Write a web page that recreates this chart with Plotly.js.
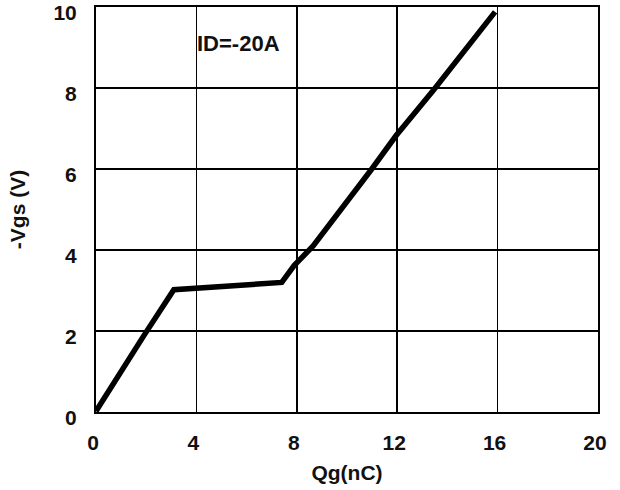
<!DOCTYPE html>
<html>
<head>
<meta charset="utf-8">
<script src="https://cdn.plot.ly/plotly-3.0.1.min.js"></script>
<style>html,body{margin:0;padding:0;background:#fff;}#chart{width:620px;height:490px;}</style>
</head>
<body>
<div id="chart"></div>
<script>
const qg = [0, 0.78, 1.9, 3.1, 7.4, 7.9, 8.65, 10.95, 11.95, 13.45, 15.9];
const vgs = [0.02, 0.8, 1.88, 3.02, 3.2, 3.62, 4.1, 5.97, 6.82, 7.95, 9.88];
const xTicks = [0, 4, 8, 12, 16, 20];
const yTicks = [0, 2, 4, 6, 8, 10];
const noteText = "ID=-20A";

const font = "Liberation Sans, Arial, sans-serif";
const trace = {
  x: qg, y: vgs, type: "scatter", mode: "lines",
  line: {color: "#000", width: 5.5},
  hoverinfo: "skip"
};
const axisCommon = {
  showgrid: true, gridcolor: "#000", gridwidth: 1.7,
  showline: true, linecolor: "#000", linewidth: 2, mirror: true,
  zeroline: false, ticks: "", fixedrange: true, ticklabeloverflow: "allow"
};
const layout = {
  width: 620, height: 490,
  margin: {l: 96, r: 22, t: 7, b: 78},
  paper_bgcolor: "#fff", plot_bgcolor: "#fff",
  showlegend: false,
  font: {family: font, color: "#111"},
  xaxis: Object.assign({}, axisCommon, {
    range: [0, 20], tickvals: xTicks, ticktext: xTicks.map(v => "<b>" + v + "</b>"),
    tickfont: {family: font, size: 21, color: "#111"},
    ticklabelstandoff: 11, ticklabelshift: -3,
    title: {text: "<b>Qg(nC)</b>", font: {family: font, size: 21, color: "#111"}, standoff: 12}
  }),
  yaxis: Object.assign({}, axisCommon, {
    range: [0, 10], tickvals: yTicks, ticktext: yTicks.map(v => "<b>" + v + "</b>"),
    tickfont: {family: font, size: 21, color: "#111"},
    ticklabelstandoff: 13, ticklabelshift: 6,
    title: {text: "<b>-Vgs (V)</b>", font: {family: font, size: 21, color: "#111"}, standoff: 22}
  }),
  annotations: [{
    x: 5.66, y: 9.1, xref: "x", yref: "y", text: "<b>" + noteText + "</b>",
    showarrow: false, font: {family: font, size: 22, color: "#111"}
  }]
};
Plotly.newPlot("chart", [trace], layout, {staticPlot: true, displayModeBar: false});
</script>
</body>
</html>
